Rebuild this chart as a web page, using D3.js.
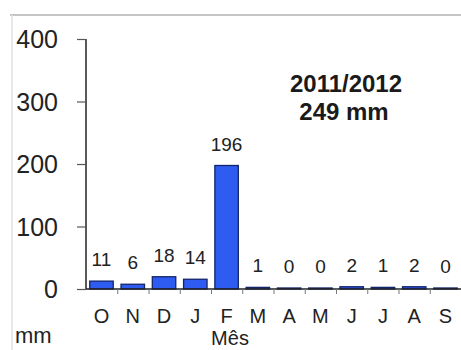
<!DOCTYPE html>
<html><head><meta charset="utf-8">
<script src="https://cdn.jsdelivr.net/npm/d3@7"></script>
<style>body{margin:0;background:#fff}svg{display:block}text{font-family:"Liberation Sans",Arial,sans-serif}</style>
</head><body>
<svg id="c" width="461" height="350"></svg>
<script>
const months = ["O","N","D","J","F","M","A","M","J","J","A","S"];
const values = [11,6,18,14,196,1,0,0,2,1,2,0];
const yTicks = [0,100,200,300,400];
const titleLines = ["2011/2012","249 mm"];
const xTitle = "Mês";
const yTitle = "mm";

const svg = d3.select("#c");
// frame lines
svg.append("line").attr("x1",10).attr("x2",461).attr("y1",15).attr("y2",15).attr("stroke","#b0b0b0").attr("stroke-width",1.5);
svg.append("line").attr("x1",12).attr("x2",12).attr("y1",15).attr("y2",350).attr("stroke","#e0e0e0").attr("stroke-width",1.5);

const x = d3.scaleBand().domain(d3.range(months.length)).range([86,461]).paddingInner(0.25).paddingOuter(0.12);
const xb = d3.scaleLinear().domain([0,months.length]).range([86,461]);
const y = d3.scaleLinear().domain([0,400]).range([289,39]);

// y axis
const ya = svg.append("g").attr("transform","translate(86,0)")
  .call(d3.axisLeft(y).tickValues(yTicks).tickSize(9).tickPadding(19).tickFormat(d3.format("d")));
ya.select(".domain").attr("stroke","#222").attr("stroke-width",1.5).attr("d","M0,"+y(400)+"V"+y(0));
ya.selectAll(".tick line").attr("stroke","#555").attr("stroke-width",1.2);
ya.selectAll(".tick text").attr("font-size",25).attr("fill","#222").attr("dy","0.35em");

// bars
svg.append("g").selectAll("rect").data(values).join("rect")
  .attr("x",(d,i)=>x(i)).attr("width",x.bandwidth())
  .attr("y",d=>y(d)-1).attr("height",d=>y(0)-y(d)+1)
  .attr("fill","#2f5cf0").attr("stroke","#14246a").attr("stroke-width",1.3);

// x axis
const xa = svg.append("g").attr("transform","translate(0,289)")
  .call(d3.axisBottom(xb).tickValues(d3.range(1,months.length+1)).tickSize(5).tickFormat(""));
xa.select(".domain").attr("stroke","#222").attr("stroke-width",1.5).attr("d","M86,0H461");
xa.selectAll(".tick line").attr("stroke","#777");

svg.append("g").selectAll("text").data(months).join("text")
  .attr("x",(d,i)=>x(i)+x.bandwidth()/2).attr("y",323)
  .attr("text-anchor","middle").attr("font-size",20).attr("fill","#222").text(d=>d);

// value labels
svg.append("g").selectAll("text").data(values).join("text")
  .attr("x",(d,i)=>x(i)+x.bandwidth()/2).attr("y",d=>y(d)-16)
  .attr("text-anchor","middle").attr("font-size",19).attr("fill","#222").text(d=>d);

// titles
svg.append("text").attr("x",346).attr("y",92).attr("text-anchor","middle").attr("font-size",24).attr("font-weight","bold").attr("fill","#1a1a1a").text(titleLines[0]);
svg.append("text").attr("x",344).attr("y",120).attr("text-anchor","middle").attr("font-size",24).attr("font-weight","bold").attr("fill","#1a1a1a").text(titleLines[1]);
svg.append("text").attr("x",230).attr("y",345).attr("text-anchor","middle").attr("font-size",20).attr("fill","#222").text(xTitle);
svg.append("text").attr("x",15).attr("y",343).attr("font-size",22).attr("fill","#222").text(yTitle);
</script>
</body></html>
